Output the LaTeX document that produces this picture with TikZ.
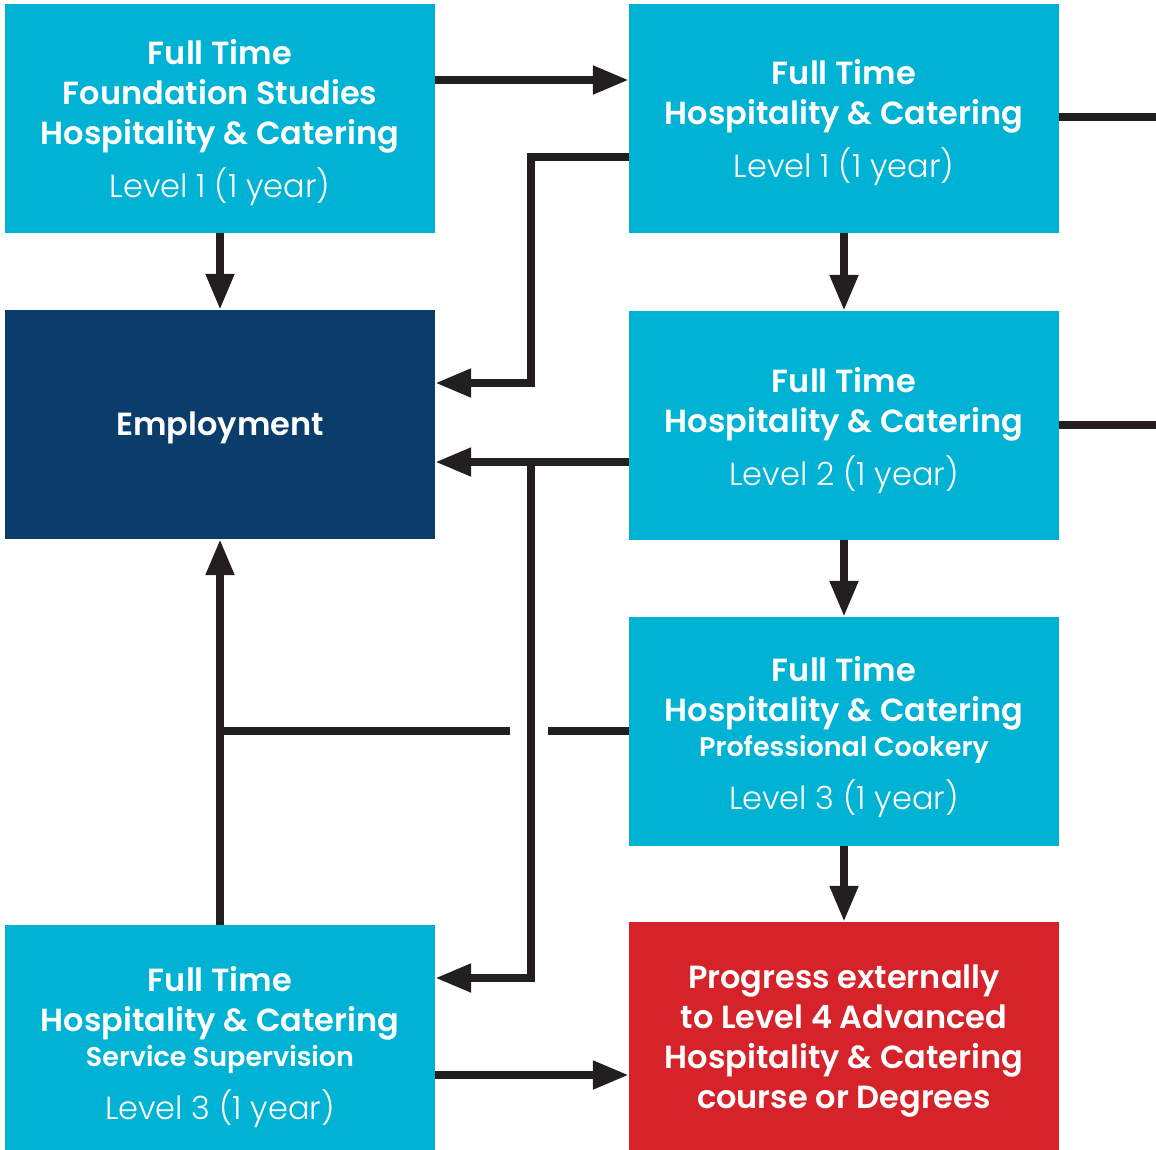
\documentclass[tikz,border=0pt]{standalone}
\usepackage{fontspec}
\setmainfont{Poppins}[BoldFont={Poppins SemiBold}]
\newfontfamily\lightfont{Poppins Light}
\usepackage{tikz}
\usetikzlibrary{calc,arrows.meta}

\definecolor{boxcyan}{HTML}{00B3D5}
\definecolor{boxnavy}{HTML}{0A3D6B}
\definecolor{boxred}{HTML}{D6232A}
\definecolor{linedark}{HTML}{231F20}

\begin{document}
\begin{tikzpicture}[x=1pt,y=-1pt]
  \tikzstyle{course}=[rectangle, fill=boxcyan, text=white, minimum width=430pt, minimum height=229pt,
    inner sep=0pt, align=center, font=\fontsize{32}{40}\selectfont\bfseries,
    execute at begin node=\rule{0pt}{29.5pt}]
  \tikzstyle{directed}=[-{Triangle[length=36pt,width=27pt]}, line width=8pt, color=linedark]
  \tikzstyle{plain}=[line width=8pt, color=linedark]
  \newcommand{\lvl}[1]{{\lightfont\mdseries #1}}
  \newcommand{\sub}[1]{{\fontsize{27}{30}\selectfont #1}}
  \newcommand{\ft}[2][34pt]{\rule{0pt}{#1}#2}
  \useasboundingbox (0,0) rectangle (1156,1150);

  \node[course] (found) at (220,118.5) {\ft{Full Time}\\Foundation Studies\\Hospitality \& Catering\\[13pt]\lvl{Level 1 (1 year)}};
  \node[course] (lvl1) at (844,118.5) {\ft{Full Time}\\Hospitality \& Catering\\[13pt]\lvl{Level 1 (1 year)}};
  \node[course, fill=boxnavy] (emp) at (220,424.5) {Employment};
  \node[course] (lvl2) at (844,425.5) {\ft[36pt]{Full Time}\\Hospitality \& Catering\\[13pt]\lvl{Level 2 (1 year)}};
  \node[course] (lvl3) at (844,731.5) {\ft[36pt]{Full Time}\\Hospitality \& Catering\\[-5pt]\sub{Professional Cookery}\\[13pt]\lvl{Level 3 (1 year)}};
  \node[course, minimum height=237pt] (serv) at (220,1043.5) {\ft[32pt]{Full Time}\\Hospitality \& Catering\\[-5pt]\sub{Service Supervision}\\[13pt]\lvl{Level 3 (1 year)}};
  \node[course, fill=boxred, minimum height=231pt] (prog) at (844,1037.5) {\ft[30pt]{Progress externally}\\to Level 4 Advanced\\Hospitality \& Catering\\course or Degrees};

  \coordinate (bus) at (531,0);
  \coordinate (out1) at (1156,117);
  \coordinate (out2) at (1156,425);

  % straight on down the right column
  \foreach \a/\b in {lvl1/lvl2,lvl2/lvl3,lvl3/prog} {
    \draw[directed] (\a.south) -- (\a.south |- \b.north);
  }
  \draw[directed] (found.south) -- (emp.north);
  \draw[directed] (found.east |- 0,80) -- (lvl1.west |- 0,80);
  \draw[directed] (lvl1.west |- 0,157) -| (bus |- 0,383) -- (emp.east |- 0,383);
  \coordinate (j2) at (bus |- 0,462);
  \draw[directed] (lvl2.west |- j2) -- (emp.east |- j2);
  \draw[directed] ([yshift=4pt]j2) |- (serv.east |- 0,978);
  \draw[directed] (serv.east |- 0,1075) -- (prog.west |- 0,1075);
  \draw[directed] (serv.north) -- (emp.south);
  % level 3 joins the line to employment, hopping over the bus
  \draw[plain] (lvl3.west |- 0,731) -- ($(bus |- 0,731)+(17,0)$);
  \draw[plain] ($(bus |- 0,731)+(-21,0)$) -- ($(serv.north |- 0,731)+(-4,0)$);
  \draw[plain] (lvl1.east |- out1) -- (out1);
  \draw[plain] (lvl2.east |- out2) -- (out2);
\end{tikzpicture}
\end{document}
